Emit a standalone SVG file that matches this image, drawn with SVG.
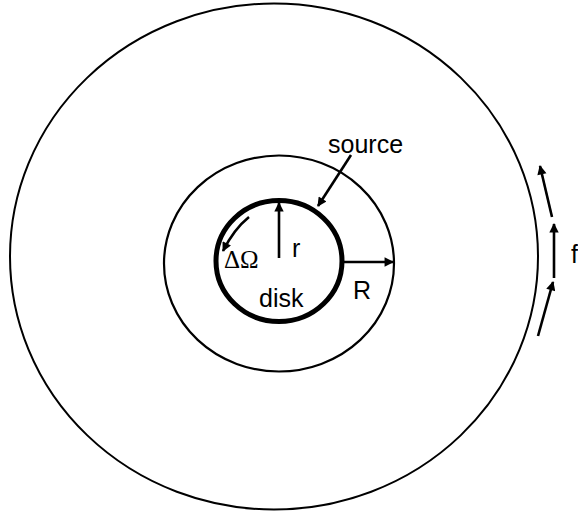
<svg xmlns="http://www.w3.org/2000/svg" width="578" height="515" viewBox="0 0 578 515">
<style>
.ring{fill:none;stroke:#000}
.conn{fill:none;stroke:#000;stroke-width:2.6}
.t{font-family:"Liberation Sans",Arial,sans-serif;font-size:25px;fill:#000}
.g{font-family:"Liberation Serif","Times New Roman",serif;font-size:25px;fill:#000}
</style>
<defs>
<marker id="ah" viewBox="0 0 10 10" refX="9" refY="5" markerWidth="4.4" markerHeight="3.6" orient="auto" markerUnits="strokeWidth">
<path d="M0,0 L10,5 L0,10 z" fill="#000"/>
</marker>
</defs>
<rect width="578" height="515" fill="#fff"/>
<g id="outer"><ellipse class="ring" cx="274" cy="256.5" rx="264" ry="253" stroke-width="2"/></g>
<g id="middle"><ellipse class="ring" cx="279" cy="263.5" rx="115" ry="108" stroke-width="2.2"/></g>
<g id="disk"><ellipse class="ring" cx="279" cy="261" rx="63" ry="60.5" stroke-width="5"/></g>
<g id="labels">
<text class="t" x="328" y="153">source</text>
<text class="t" x="292" y="257">r</text>
<text class="g" x="224" y="268">ΔΩ</text>
<text class="t" x="259" y="307">disk</text>
<text class="t" x="353" y="299">R</text>
<text class="t" x="571" y="263">f</text>
</g>
<g id="connectors">
<line class="conn" x1="279" y1="258" x2="279" y2="203" marker-end="url(#ah)"/>
<line class="conn" x1="344" y1="262" x2="393" y2="262" marker-end="url(#ah)"/>
<line class="conn" x1="351" y1="155" x2="318" y2="206" marker-end="url(#ah)"/>
<path class="conn" d="M249,217 Q234,229 223,251" marker-end="url(#ah)"/>
<line class="conn" x1="552" y1="217" x2="540" y2="166" marker-end="url(#ah)"/>
<line class="conn" x1="554" y1="278" x2="554" y2="224" marker-end="url(#ah)"/>
<line class="conn" x1="538" y1="336" x2="553" y2="282" marker-end="url(#ah)"/>
</g>
</svg>
